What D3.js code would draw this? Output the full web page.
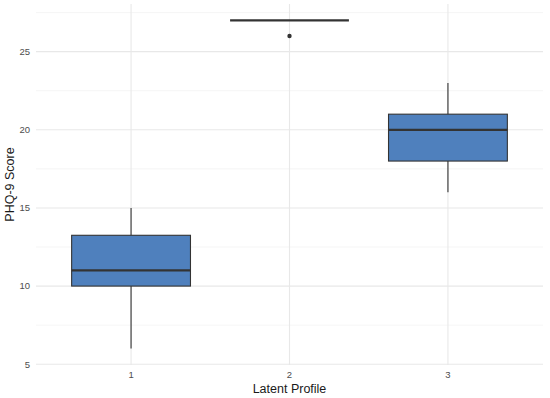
<!DOCTYPE html>
<html>
<head>
<meta charset="utf-8">
<script src="https://cdn.jsdelivr.net/npm/d3@7"></script>
<style>
  body { margin: 0; background: #fff; }
  text { font-family: "Liberation Sans", Arial, sans-serif; }
</style>
</head>
<body>
<div id="chart"></div>
<script>
// box stats
var profiles = ["1", "2", "3"];
var lowWhisker = [6, 27, 16];
var q1 = [10, 27, 18];
var median = [11, 27, 20];
var q3 = [13.25, 27, 21];
var highWhisker = [15, 27, 23];
var outliers = [[], [26], []];
var yTicks = [5, 10, 15, 20, 25];
var yMinor = [7.5, 12.5, 17.5, 22.5, 27.5];

var W = 550, H = 398;
var margin = { top: 4, right: 7, bottom: 33, left: 36 },
    width = W - margin.left - margin.right,
    height = H - margin.top - margin.bottom;

var svg = d3.select("#chart").append("svg")
    .attr("width", W)
    .attr("height", H);

var g = svg.append("g")
    .attr("transform", "translate(" + margin.left + "," + margin.top + ")");

// ggplot style expansion: 0.6 units on discrete, 5% on continuous
var x = d3.scalePoint().domain(profiles).range([0, width]).padding(0.6);
var step = x.step();
var y = d3.scaleLinear().domain([4.95, 28.05]).range([height, 0]);

// grid
g.selectAll(".minor").data(yMinor).enter().append("line")
    .attr("x1", 0).attr("x2", width)
    .attr("y1", function(d) { return y(d); })
    .attr("y2", function(d) { return y(d); })
    .attr("stroke", "#efefef").attr("stroke-width", 0.6);

g.selectAll(".major").data(yTicks).enter().append("line")
    .attr("x1", 0).attr("x2", width)
    .attr("y1", function(d) { return y(d); })
    .attr("y2", function(d) { return y(d); })
    .attr("stroke", "#e8e8e8").attr("stroke-width", 1.1);

g.selectAll(".vgrid").data(profiles).enter().append("line")
    .attr("x1", function(d) { return x(d); })
    .attr("x2", function(d) { return x(d); })
    .attr("y1", 0).attr("y2", height)
    .attr("stroke", "#e8e8e8").attr("stroke-width", 1.1);

var boxW = step * 0.75;
var outline = "#333333";

var boxes = g.selectAll(".box").data(profiles).enter().append("g")
    .attr("transform", function(d) { return "translate(" + x(d) + ",0)"; });

// whiskers
boxes.append("line")
    .attr("x1", 0).attr("x2", 0)
    .attr("y1", function(d, i) { return y(highWhisker[i]); })
    .attr("y2", function(d, i) { return y(q3[i]); })
    .attr("stroke", outline).attr("stroke-width", 1.1);
boxes.append("line")
    .attr("x1", 0).attr("x2", 0)
    .attr("y1", function(d, i) { return y(q1[i]); })
    .attr("y2", function(d, i) { return y(lowWhisker[i]); })
    .attr("stroke", outline).attr("stroke-width", 1.1);

boxes.append("rect")
    .attr("x", -boxW / 2)
    .attr("width", boxW)
    .attr("y", function(d, i) { return y(q3[i]); })
    .attr("height", function(d, i) { return y(q1[i]) - y(q3[i]); })
    .attr("fill", "#4f80bd")
    .attr("stroke", outline).attr("stroke-width", 1.1);

boxes.append("line")
    .attr("x1", -boxW / 2).attr("x2", boxW / 2)
    .attr("y1", function(d, i) { return y(median[i]); })
    .attr("y2", function(d, i) { return y(median[i]); })
    .attr("stroke", outline).attr("stroke-width", 2.2);

boxes.each(function(d, i) {
    d3.select(this).selectAll("circle").data(outliers[i]).enter().append("circle")
        .attr("cx", 0)
        .attr("cy", function(v) { return y(v); })
        .attr("r", 2.2)
        .attr("fill", outline);
});

// axis labels
g.selectAll(".ylab").data(yTicks).enter().append("text")
    .attr("x", -6)
    .attr("y", function(d) { return y(d); })
    .attr("dy", "0.35em")
    .attr("text-anchor", "end")
    .attr("font-size", "9.5px")
    .attr("fill", "#4d4d4d")
    .text(function(d) { return d; });

g.selectAll(".xlab").data(profiles).enter().append("text")
    .attr("x", function(d) { return x(d); })
    .attr("y", height + 13)
    .attr("text-anchor", "middle")
    .attr("font-size", "9.5px")
    .attr("fill", "#4d4d4d")
    .text(function(d) { return d; });

svg.append("text")
    .attr("x", margin.left + width / 2)
    .attr("y", H - 5)
    .attr("text-anchor", "middle")
    .attr("font-size", "12.5px")
    .attr("fill", "#1a1a1a")
    .text("Latent Profile");

svg.append("text")
    .attr("text-anchor", "middle")
    .attr("transform", "translate(14," + (margin.top + height / 2) + ")rotate(-90)")
    .attr("font-size", "12.5px")
    .attr("fill", "#1a1a1a")
    .text("PHQ-9 Score");
</script>
</body>
</html>
